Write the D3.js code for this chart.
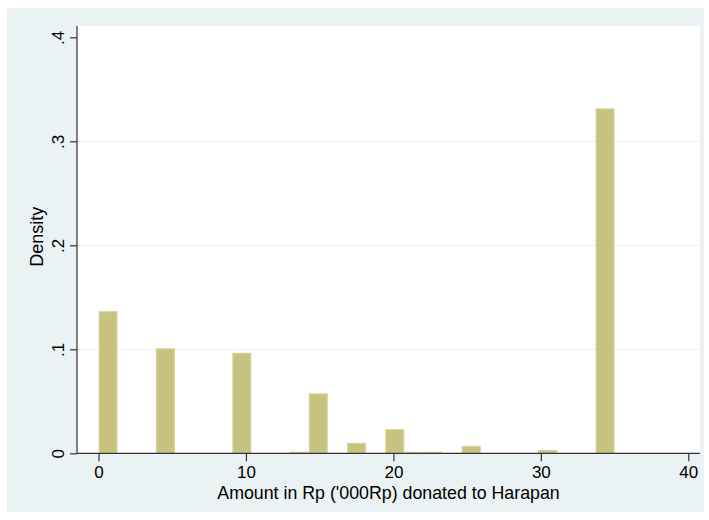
<!DOCTYPE html>
<html>
<head>
<meta charset="utf-8">
<script src="https://cdn.jsdelivr.net/npm/d3@7"></script>
<style>
  html, body { margin: 0; padding: 0; background: #ffffff; }
  svg { display: block; }
  text { font-family: "Liberation Sans", Arial, sans-serif; fill: #000; }
</style>
</head>
<body>
<svg id="chart" width="709" height="520"></svg>
<script>
// Histogram of donation amounts: 27 equal bins spanning 0 to 35
const binStart = 0;
const binEnd = 35;
const binCount = 27;
const densities = [
  0.1368, 0, 0, 0.1010, 0, 0, 0, 0.0967, 0, 0,
  0.0015, 0.0577, 0, 0.0102, 0, 0.0234, 0.0015, 0.0015, 0, 0.0073,
  0, 0, 0, 0.0032, 0, 0, 0.3317
];
const xTicks = [0, 10, 20, 30, 40];
const yTicks = [0, 0.1, 0.2, 0.3, 0.4];
const yTickLabels = ["0", ".1", ".2", ".3", ".4"];
const xTitle = "Amount in Rp ('000Rp) donated to Harapan";
const yTitle = "Density";

const svg = d3.select("#chart");

// outer graph region
svg.append("rect").attr("x", 7).attr("y", 8).attr("width", 697).attr("height", 504)
  .attr("fill", "#eaf2f3");

const plot = { left: 77, right: 700, top: 26, bottom: 453.3 };
svg.append("rect").attr("x", plot.left).attr("y", plot.top)
  .attr("width", plot.right - plot.left).attr("height", plot.bottom - plot.top)
  .attr("fill", "#ffffff");

const x = d3.scaleLinear().domain([0, 40]).range([98.5, 688.3]);
const y = d3.scaleLinear().domain([0, 0.4]).range([453.3, 37.3]);

// horizontal grid lines
svg.append("g").selectAll("line").data(yTicks.filter(v => v > 0 && v < 0.4)).join("line")
  .attr("x1", plot.left).attr("x2", plot.right)
  .attr("y1", d => y(d)).attr("y2", d => y(d))
  .attr("stroke", "#eaf2f3").attr("stroke-width", 1.2);

// bars
const binWidth = (binEnd - binStart) / binCount;
const bins = densities.map((d, i) => ({ x0: binStart + i * binWidth, x1: binStart + (i + 1) * binWidth, d }))
  .filter(b => b.d > 0);
svg.append("g").selectAll("rect").data(bins).join("rect")
  .attr("x", b => x(b.x0) + 0.6)
  .attr("width", b => x(b.x1) - x(b.x0) - 1.2)
  .attr("y", b => y(b.d) + 0.6)
  .attr("height", b => Math.max(0, y(0) - y(b.d) - 0.6))
  .attr("fill", "#c8c280")
  .attr("stroke", "#d8d49f")
  .attr("stroke-width", 1.2);

// axes
const xAxis = d3.axisBottom(x).tickValues(xTicks).tickFormat(d3.format("d")).tickSize(8).tickPadding(5);
const gx = svg.append("g").attr("transform", `translate(0,${plot.bottom})`).call(xAxis);
gx.select(".domain").remove();
gx.append("line").attr("x1", plot.left).attr("x2", plot.right).attr("y1", 0).attr("y2", 0)
  .attr("stroke", "#333").attr("stroke-width", 1.2);
gx.selectAll(".tick line").attr("stroke", "#333").attr("stroke-width", 1.2);
gx.selectAll(".tick text").attr("font-size", "17px").attr("fill", "#000")
  .attr("font-family", "Liberation Sans, Arial, sans-serif");

const yAxis = d3.axisLeft(y).tickValues(yTicks).tickFormat((d, i) => yTickLabels[i]).tickSize(7).tickPadding(6);
const gy = svg.append("g").attr("transform", `translate(${plot.left},0)`).call(yAxis);
gy.select(".domain").remove();
gy.append("line").attr("x1", 0).attr("x2", 0).attr("y1", plot.top).attr("y2", plot.bottom)
  .attr("stroke", "#333").attr("stroke-width", 1.2);
gy.selectAll(".tick line").attr("stroke", "#333").attr("stroke-width", 1.2);
gy.selectAll(".tick text")
  .attr("font-size", "17px").attr("fill", "#000")
  .attr("font-family", "Liberation Sans, Arial, sans-serif")
  .attr("text-anchor", "middle")
  .attr("dy", null)
  .attr("x", null)
  .attr("transform", "translate(-13,0) rotate(-90)")
  .attr("y", 0);

// axis titles
svg.append("text").attr("x", (plot.left + plot.right) / 2).attr("y", 499)
  .attr("text-anchor", "middle").attr("font-size", "17.8px").text(xTitle);
svg.append("text").attr("transform", `translate(43,${(plot.top + plot.bottom) / 2 - 3}) rotate(-90)`)
  .attr("text-anchor", "middle").attr("font-size", "18px").text(yTitle);
</script>
</body>
</html>
